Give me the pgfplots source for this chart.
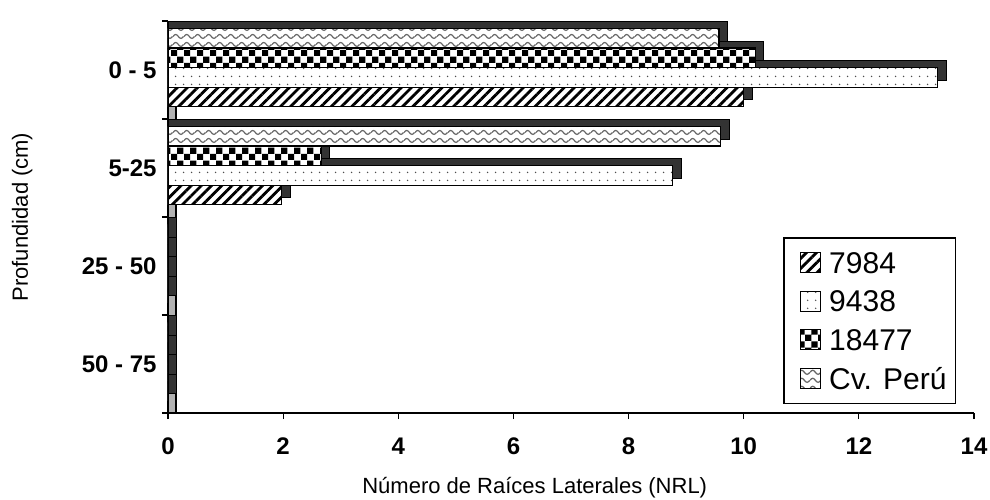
\documentclass[border=0pt]{standalone}
\usepackage{fontspec}
\setmainfont{Liberation Sans}
\usepackage{pgfplots}
\usepackage{pgfplotstable}
\pgfplotsset{compat=1.18}
\usetikzlibrary{patterns.meta}

\tikzdeclarepattern{
  name=mychecker,
  type=uncolored,
  bottom left={(0pt,0pt)},
  top right={(6.6pt,6.6pt)},
  tile size={(6.6pt,6.6pt)},
  code={
    \pgfpathrectangle{\pgfpointorigin}{\pgfpoint{3.3pt}{3.3pt}}
    \pgfpathrectangle{\pgfpoint{3.3pt}{3.3pt}}{\pgfpoint{3.3pt}{3.3pt}}
    \pgfusepath{fill}
  }
}
\tikzdeclarepattern{
  name=mywave,
  type=uncolored,
  bottom left={(0pt,-2pt)},
  top right={(5.4pt,2pt)},
  tile size={(5.4pt,4pt)},
  code={
    \draw[line width=0.65pt] (0pt,0pt) sin (1.35pt,1.1pt) cos (2.7pt,0pt) sin (4.05pt,-1.1pt) cos (5.4pt,0pt);
  }
}

\pgfplotstableread{
pos  a      b      c      d
3    10.0   13.37  10.2   9.57
2    1.97   8.76   2.66   9.6
1    0      0      0      0
0    0      0      0      0
}\datatable

\begin{document}
\begin{tikzpicture}
\begin{axis}[
  at={(0pt,0pt)}, anchor=south west,
  scale only axis, width=403pt, height=196pt,
  xbar, bar width=0.2,
  xmin=0, xmax=14, ymin=-0.5, ymax=3.5,
  axis x line*=bottom, axis y line*=left,
  axis line style={line width=0.8pt, -},
  tick align=outside,
  major tick length=3pt,
  tick style={black, line width=0.6pt},
  xtick={0,2,...,14},
  ytick={-0.5,0.5,1.5,2.5,3.5},
  yticklabels={,,,,},
  extra y ticks={0,1,2,3},
  extra y tick labels={50 - 75,25 - 50,5-25,0 - 5},
  extra y tick style={major tick length=0pt},
  /pgf/number format/assume math mode=true,
  ticklabel style={font=\fontsize{12}{14}\selectfont\bfseries},
  xticklabel style={anchor=center, yshift=-13.5pt},
  yticklabel style={anchor=east, inner sep=0pt, xshift=-5.5pt},
  xlabel={Número de Raíces Laterales (NRL)},
  ylabel={Profundidad (cm)},
  label style={font=\fontsize{11}{13}\selectfont},
  xlabel style={at={(axis description cs:0.455,0)}, anchor=center, yshift=-37.5pt},
  ylabel style={at={(axis description cs:-0.181,0.5)}, anchor=center},
  legend style={at={(axis description cs:0.978,0.449)}, anchor=north east,
    draw=black, line width=0.8pt, font=\fontsize{15}{18}\selectfont,
    row sep=8.6pt, column sep=0pt, inner xsep=4.5pt, inner ysep=7pt,
    nodes={text height=10.74pt, text depth=0pt, inner sep=0pt}},
  legend cell align=left,
  legend image code/.code={\draw[#1, line width=0.6pt] (3.5pt,-5pt) rectangle (13.5pt,5pt);
    \path (0pt,0pt) (17.5pt,0pt);},
]
\draw[fill=gray!60, line width=0.6pt] (axis cs:0,-0.5) rectangle (axis cs:0.14,3.5);

\addplot[forget plot, fill=black!80, draw=black, line width=0.4pt, bar shift=-0.205] table[x expr=\thisrow{a}+0.15, y=pos] {\datatable};
\addplot[fill=white, draw=black, line width=0.6pt, bar shift=-0.275, postaction={pattern={Lines[angle=45, distance=3.6pt, line width=1.4pt]}}] table[x=a, y=pos] {\datatable};
\addlegendentry{7984}

\addplot[forget plot, fill=black!80, draw=black, line width=0.4pt, bar shift=-0.005] table[x expr=\thisrow{b}+0.15, y=pos] {\datatable};
\addplot[fill=white, draw=black, line width=0.6pt, bar shift=-0.075, postaction={pattern={Dots[distance=4pt, radius=0.45pt]}, pattern color=black!70}] table[x=b, y=pos] {\datatable};
\addlegendentry{9438}

\addplot[forget plot, fill=black!80, draw=black, line width=0.4pt, bar shift=0.195] table[x expr=\thisrow{c}+0.15, y=pos] {\datatable};
\addplot[fill=white, draw=black, line width=0.6pt, bar shift=0.125, postaction={pattern=mychecker}] table[x=c, y=pos] {\datatable};
\addlegendentry{18477}

\addplot[forget plot, fill=black!80, draw=black, line width=0.4pt, bar shift=0.395] table[x expr=\thisrow{d}+0.15, y=pos] {\datatable};
\addplot[fill=white, draw=black, line width=0.6pt, bar shift=0.325, postaction={pattern=mywave, pattern color=black!60}] table[x=d, y=pos] {\datatable};
\addlegendentry{Cv. Perú}
\end{axis}
\pgfresetboundingbox
\path[use as bounding box] (-84pt,-43pt) rectangle (411pt,206.5pt);
\end{tikzpicture}
\end{document}
